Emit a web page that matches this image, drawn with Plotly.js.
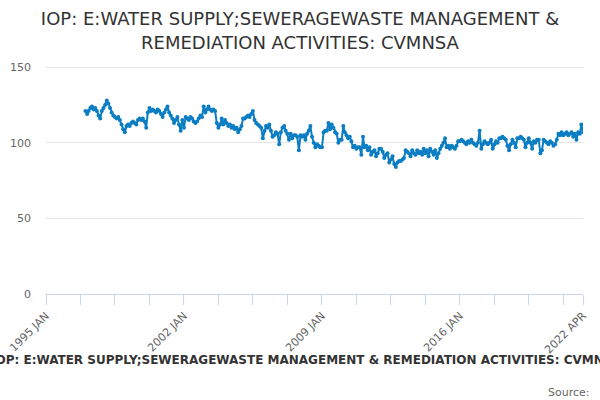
<!DOCTYPE html>
<html>
<head>
<meta charset="utf-8">
<script src="https://cdn.plot.ly/plotly-3.0.1.min.js"></script>
<style>
  html, body { margin: 0; padding: 0; background: #fff; }
  #chart { width: 600px; height: 400px; }
</style>
</head>
<body>
<div id="chart"></div>
<script>
// monthly index values, one array per year (Jan..Dec)
const firstYear = 1997;
const y1997 = [121, 119, 121, 123, 124, 122, 123, 121, 118, 116, 121, 123];
const y1998 = [125, 128, 126, 123, 120, 118, 117, 116, 117, 115, 112, 109];
const y1999 = [107, 111, 112, 111, 113, 114, 113, 112, 115, 116, 115, 116];
const y2000 = [114, 110, 120, 123, 121, 122, 121, 120, 122, 121, 119, 117];
const y2001 = [120, 122, 124, 120, 118, 116, 113, 115, 117, 112, 108, 115];
const y2002 = [110, 117, 116, 115, 117, 116, 114, 113, 114, 116, 118, 117];
const y2003 = [124, 120, 122, 124, 122, 121, 122, 121, 113, 110, 112, 116];
const y2004 = [112, 115, 113, 111, 112, 110, 111, 109, 110, 107, 109, 111];
const y2005 = [116, 116, 117, 118, 117, 119, 121, 115, 113, 112, 111, 110];
const y2006 = [103, 108, 111, 110, 112, 108, 104, 105, 107, 106, 99, 107];
const y2007 = [110, 111, 108, 106, 102, 106, 103, 105, 105, 104, 95, 105];
const y2008 = [104, 105, 102, 106, 108, 111, 104, 100, 97, 99, 98, 97];
const y2009 = [97, 107, 108, 108, 113, 109, 112, 110, 107, 106, 100, 102];
const y2010 = [102, 111, 107, 105, 103, 104, 101, 97, 98, 96, 97, 97];
const y2011 = [92, 104, 97, 98, 95, 97, 92, 94, 95, 91, 93, 96];
const y2012 = [96, 94, 90, 92, 93, 87, 89, 91, 86, 84, 87, 88];
const y2013 = [88, 89, 90, 95, 94, 93, 91, 95, 93, 92, 95, 93];
const y2014 = [94, 92, 96, 93, 95, 91, 96, 94, 92, 95, 90, 93];
const y2015 = [96, 98, 100, 103, 97, 98, 96, 98, 97, 96, 98, 101];
const y2016 = [101, 102, 101, 100, 99, 101, 100, 102, 100, 99, 98, 100];
const y2017 = [108, 96, 99, 101, 100, 99, 100, 102, 96, 99, 101, 100];
const y2018 = [103, 103, 104, 103, 102, 98, 95, 99, 102, 100, 97, 103];
const y2019 = [103, 104, 103, 102, 97, 100, 103, 100, 96, 101, 100, 102];
const y2020 = [102, 93, 95, 102, 101, 100, 99, 101, 100, 98, 99, 102];
const y2021 = [106, 105, 107, 105, 106, 107, 105, 106, 107, 104, 106, 102];
const y2022 = [107, 106, 112, 107];

const yearly = [y1997, y1998, y1999, y2000, y2001, y2002, y2003, y2004, y2005,
    y2006, y2007, y2008, y2009, y2010, y2011, y2012, y2013, y2014, y2015,
    y2016, y2017, y2018, y2019, y2020, y2021, y2022];

const tickVals = ['1995-01-01', '1996-10-01', '1998-07-01', '2000-04-01',
    '2002-01-01', '2003-10-01', '2005-07-01', '2007-04-01', '2009-01-01',
    '2010-10-01', '2012-07-01', '2014-04-01', '2016-01-01', '2017-10-01',
    '2019-07-01', '2021-04-01', '2022-04-01'];
const tickText = ['1995 JAN', '', '', '', '2002 JAN', '', '', '', '2009 JAN',
    '', '', '', '2016 JAN', '', '', '', '2022 APR'];

const titleText = 'IOP: E:WATER SUPPLY;SEWERAGEWASTE MANAGEMENT &amp; REMEDIATION ACTIVITIES: CVMNSA';

let xs = [];
let ys = [];
yearly.forEach((vals, i) => {
    vals.forEach((v, m) => {
        let mm = String(m + 1).padStart(2, '0');
        xs.push((firstYear + i) + '-' + mm + '-01');
        ys.push(v);
    });
});

const font = 'DejaVu Sans, Verdana, sans-serif';

const data = [{
    x: xs,
    y: ys,
    type: 'scatter',
    mode: 'lines+markers',
    name: 'CVMNSA',
    line: {color: '#0b7dc3', width: 2},
    marker: {color: '#0b7dc3', size: 4},
    hoverinfo: 'x+y'
}];

const layout = {
    width: 600,
    height: 400,
    margin: {l: 46, r: 17, t: 52, b: 106},
    paper_bgcolor: '#ffffff',
    plot_bgcolor: '#ffffff',
    showlegend: false,
    font: {family: font, color: '#666666'},
    title: {
        text: 'IOP: E:WATER SUPPLY;SEWERAGEWASTE MANAGEMENT &amp;<br>REMEDIATION ACTIVITIES: CVMNSA',
        font: {family: font, size: 18, color: '#333333'},
        x: 0.5,
        xanchor: 'center',
        xref: 'container',
        yref: 'container',
        y: 0.937,
        yanchor: 'middle'
    },
    xaxis: {
        type: 'date',
        range: ['1995-01-01', '2022-04-01'],
        tickmode: 'array',
        tickvals: tickVals,
        ticktext: tickText,
        tickangle: -45,
        ticks: 'outside',
        ticklen: 10,
        tickcolor: '#ccd6eb',
        showline: true,
        linecolor: '#ccd6eb',
        linewidth: 1,
        showgrid: false,
        zeroline: false,
        tickfont: {family: font, size: 11, color: '#666666'}
    },
    yaxis: {
        range: [0, 160],
        tickvals: [0, 50, 100, 150],
        showgrid: true,
        gridcolor: '#e6e6e6',
        zeroline: false,
        showline: false,
        ticks: '',
        ticklabelstandoff: 14,
        tickfont: {family: font, size: 11, color: '#666666'}
    },
    annotations: [
        {
            text: '<b>' + titleText + '</b>',
            xref: 'paper', yref: 'paper',
            x: 0.485, y: -0.273,
            xanchor: 'center', yanchor: 'middle',
            showarrow: false,
            font: {family: font, size: 12, color: '#333333'}
        },
        {
            text: 'Source:',
            xref: 'paper', yref: 'paper',
            x: 1.017, y: -0.405,
            xanchor: 'right', yanchor: 'middle',
            showarrow: false,
            font: {family: font, size: 11, color: '#666666'}
        }
    ]
};

const config = {
    responsive: false,
    displaylogo: false,
    displayModeBar: false,
    staticPlot: true
};

Plotly.newPlot('chart', data, layout, config);
</script>
</body>
</html>
